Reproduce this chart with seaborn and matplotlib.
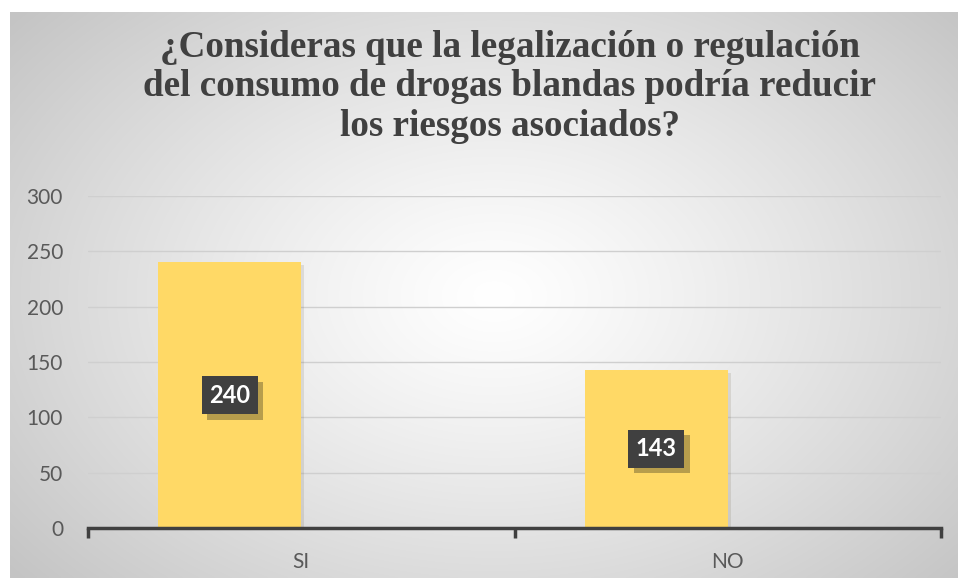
import numpy as np
import pandas as pd
import matplotlib
matplotlib.use("Agg")
import matplotlib.pyplot as plt
import matplotlib.patheffects as pe
import seaborn as sns

categories = ["SI", "NO"]
values = [240, 143]
title = "¿Consideras que la legalización o regulación\ndel consumo de drogas blandas podría reducir\nlos riesgos asociados?"

df = pd.DataFrame({"respuesta": categories, "total": values})

sns.set_style("white")
plt.rcParams["font.family"] = ["Lato", "DejaVu Sans"]

W, H = 958, 578
fig = plt.figure(figsize=(W / 100, H / 100), dpi=100)
fig.patch.set_facecolor("white")

# radial gradient background of the chart area
bg = fig.add_axes([10 / W, 0, (W - 10) / W, (H - 12) / H])
yy, xx = np.mgrid[0:300, 0:500]
cx, cy = 255, 150
d = np.sqrt(((xx - cx) / 330.0) ** 2 + ((yy - cy) / 230.0) ** 2)
d = np.clip(d, 0, 1)
shade = 1.0 - 0.23 * d ** 1.2
bg.imshow(np.dstack([shade] * 3), aspect="auto", interpolation="bilinear")
bg.set_axis_off()

ax = fig.add_axes([88 / W, 1 - 528 / H, (941 - 88) / W, (528 - 196) / H])
ax.patch.set_alpha(0)

bar_w = 0.335
offset = -0.1675  # Excel leaves room for a second (empty) series
sns.barplot(data=df, x="respuesta", y="total", color="#FFD966", width=bar_w,
            saturation=1, linewidth=0, ax=ax, zorder=3)
for p in ax.patches:
    p.set_x(p.get_x() + offset)
    p.set_path_effects([pe.SimplePatchShadow(offset=(2, -2), alpha=0.12), pe.Normal()])

ax.set_xlim(-0.5, 1.5)
ax.set_ylim(0, 300)
ax.set_yticks(range(0, 301, 50))
ax.grid(axis="y", color="#CFCFCF", linewidth=1, zorder=0)
ax.set_xlabel("")
ax.set_ylabel("")

for s in ["top", "right", "left"]:
    ax.spines[s].set_visible(False)
ax.spines["bottom"].set_color("#404040")
ax.spines["bottom"].set_linewidth(2.5)
ax.spines["bottom"].set_zorder(4)

ax.tick_params(axis="y", length=0, pad=18, labelsize=15, labelcolor="#595959")
ax.tick_params(axis="x", which="major", length=0, pad=17, labelsize=15, labelcolor="#595959")
ax.set_xticks([-0.5, 0.5, 1.5], minor=True)
ax.tick_params(axis="x", which="minor", bottom=True, length=7, width=2.5, color="#404040")

for i, v in enumerate(values):
    t = ax.text(i + offset, v / 2, str(v), ha="center", va="center", color="white",
                fontsize=17, fontweight="bold", zorder=5,
                bbox=dict(boxstyle="square,pad=0.32", facecolor="#404040", edgecolor="none"))
    t.get_bbox_patch().set_path_effects([pe.SimplePatchShadow(offset=(4, -4), alpha=0.3), pe.Normal()])

fig.text(0.532, 1 - 87 / H, title, ha="center", va="center", family="Liberation Serif",
         fontsize=26.7, fontweight="bold", color="#404040", linespacing=1.15)

fig.savefig("out.png", dpi=100)
